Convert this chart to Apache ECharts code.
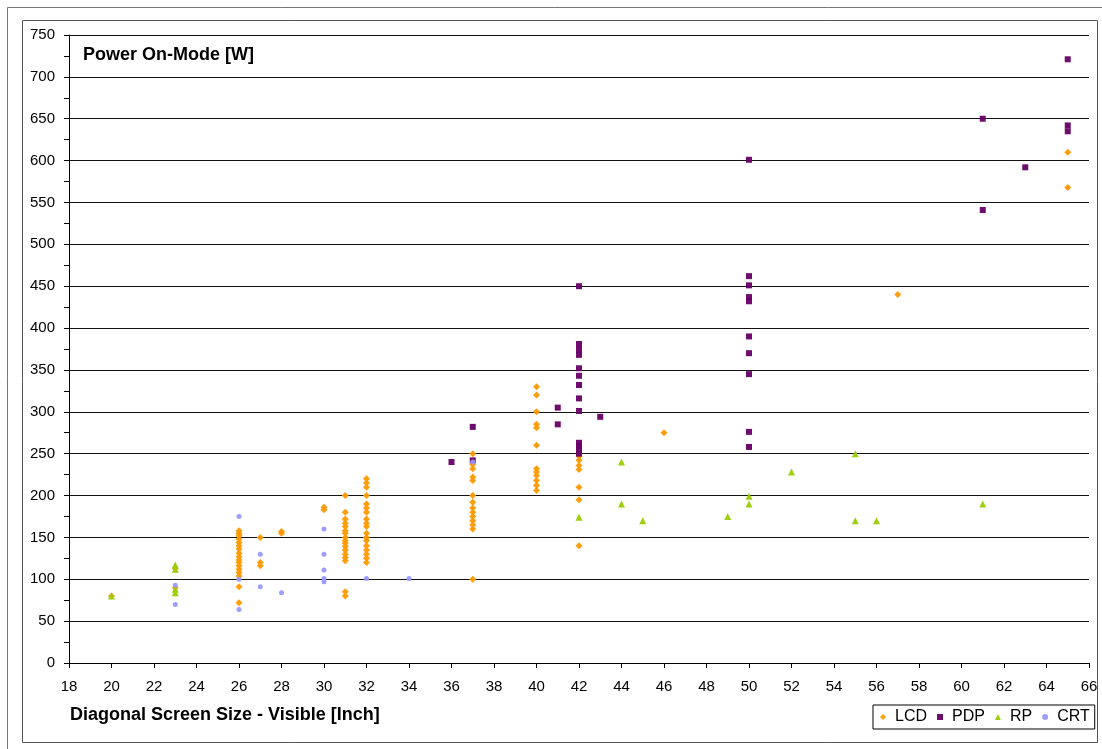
<!DOCTYPE html>
<html>
<head>
<meta charset="utf-8">
<style>
  html, body { margin: 0; padding: 0; background: #fff; }
  #chart { width: 1102px; height: 749px; }
</style>
<script src="https://cdn.jsdelivr.net/npm/echarts@6/dist/echarts.min.js"></script>
</head>
<body>
<div id="chart"></div>
<script>
// Power consumption in on-mode [W] against visible screen diagonal [inch]
const lcd = [
  [20, 80],
  [23, 113], [23, 90],
  [26, 158], [26, 155], [26, 152], [26, 148], [26, 144], [26, 140], [26, 136], [26, 131],
  [26, 127], [26, 123], [26, 120], [26, 116], [26, 112], [26, 108], [26, 104], [26, 91], [26, 72],
  [27, 150], [27, 120], [27, 116],
  [28, 157], [28, 155],
  [30, 186], [30, 183],
  [31, 200], [31, 180], [31, 172], [31, 167], [31, 163], [31, 158], [31, 155], [31, 150],
  [31, 146], [31, 143], [31, 139], [31, 135], [31, 130], [31, 126], [31, 122], [31, 85], [31, 80],
  [32, 220], [32, 215], [32, 210], [32, 200], [32, 190], [32, 185], [32, 180], [32, 172],
  [32, 167], [32, 163], [32, 155], [32, 150], [32, 146], [32, 140], [32, 135], [32, 130],
  [32, 125], [32, 120],
  [37, 250], [37, 237], [37, 232], [37, 222], [37, 218], [37, 200], [37, 192], [37, 185],
  [37, 180], [37, 175], [37, 170], [37, 165], [37, 160], [37, 100],
  [40, 330], [40, 320], [40, 300], [40, 285], [40, 281], [40, 260], [40, 232], [40, 228],
  [40, 224], [40, 218], [40, 212], [40, 206],
  [42, 247], [42, 242], [42, 236], [42, 231], [42, 210], [42, 195], [42, 140],
  [46, 275],
  [57, 440],
  [65, 610], [65, 568]
];
const pdp = [
  [36, 240],
  [37, 282], [37, 242],
  [41, 305], [41, 285],
  [42, 450], [42, 381], [42, 374], [42, 368], [42, 352], [42, 343], [42, 332], [42, 316],
  [42, 301], [42, 263], [42, 259], [42, 255], [42, 250],
  [43, 294],
  [50, 601], [50, 462], [50, 451], [50, 437], [50, 432], [50, 390], [50, 370], [50, 345],
  [50, 276], [50, 258],
  [61, 650], [61, 541],
  [63, 592],
  [65, 721], [65, 642], [65, 635]
];
const rp = [
  [20, 80],
  [23, 117], [23, 112], [23, 88], [23, 84],
  [42, 174],
  [44, 240], [44, 190],
  [45, 170],
  [49, 175],
  [50, 199], [50, 190],
  [52, 228],
  [55, 250], [55, 170],
  [56, 170],
  [61, 190]
];
const crt = [
  [23, 93], [23, 70],
  [26, 175], [26, 100], [26, 64],
  [27, 130], [27, 91],
  [28, 84],
  [30, 160], [30, 130], [30, 111], [30, 101], [30, 97],
  [32, 101],
  [34, 101],
  [37, 240]
];
const seriesNames = ['LCD', 'PDP', 'RP', 'CRT'];
const xTicks = { min: 18, max: 66, step: 2 };
const yTicks = { min: 0, max: 750, step: 50 };

const font = '"Liberation Sans", Arial, sans-serif';
const symbols = { LCD: 'diamond', PDP: 'rect', RP: 'triangle', CRT: 'circle' };
const colors = { LCD: '#FF9900', PDP: '#660066', RP: '#99CC00', CRT: '#9999FF' };
const chart = echarts.init(document.getElementById('chart'), null, { renderer: 'canvas' });

function scatter(name, data, size) {
  return {
    name, type: 'scatter', data, symbol: symbols[name], symbolSize: size,
    itemStyle: { color: colors[name], opacity: 0.95 },
    emphasis: { disabled: true }
  };
}

chart.setOption({
  animation: false,
  backgroundColor: '#fff',
  textStyle: { fontFamily: font },
  grid: { left: 69, top: 35, right: 13, bottom: 86, containLabel: false },
  xAxis: {
    type: 'value', min: xTicks.min, max: xTicks.max, interval: xTicks.step,
    axisLine: { show: true, onZero: false, lineStyle: { color: '#000', width: 1 } },
    axisTick: { show: true, length: 5, lineStyle: { color: '#000' } },
    axisLabel: { color: '#000', fontSize: 15, fontFamily: font, margin: 16 },
    splitLine: { show: false }
  },
  yAxis: {
    type: 'value', min: yTicks.min, max: yTicks.max, interval: yTicks.step,
    axisLine: { show: true, lineStyle: { color: '#000', width: 1 } },
    axisTick: { show: true, length: 5, lineStyle: { color: '#000' } },
    minorTick: { show: true, splitNumber: 2, length: 5, lineStyle: { color: '#000' } },
    axisLabel: { color: '#000', fontSize: 15, fontFamily: font, margin: 14 },
    splitLine: { show: true, lineStyle: { color: '#111', width: 1 } }
  },
  legend: {
    data: seriesNames.map(n => ({ name: n, icon: symbols[n] })),
    left: 873, top: 705,
    orient: 'horizontal',
    padding: [4, 5, 4, 7],
    itemWidth: 6, itemHeight: 6, itemGap: 10,
    borderColor: '#000', borderWidth: 1, backgroundColor: '#fff',
    textStyle: { fontSize: 16, color: '#000', fontFamily: font, padding: [0, 0, 0, 4] },
    selectedMode: false
  },
  graphic: [
    { type: 'line', shape: { x1: 7.5, y1: 7.5, x2: 1102, y2: 7.5 }, style: { stroke: '#777', lineWidth: 1 } },
    { type: 'line', shape: { x1: 7.5, y1: 7.5, x2: 7.5, y2: 749 }, style: { stroke: '#777', lineWidth: 1 } },
    { type: 'rect', shape: { x: 22.5, y: 20.5, width: 1075, height: 722 }, style: { fill: 'none', stroke: '#555', lineWidth: 1 }, z: -1 },
    { type: 'text', left: 83, top: 46, style: { text: 'Power On-Mode [W]', font: 'bold 18px ' + font, fill: '#000' } },
    { type: 'text', left: 70, top: 706, style: { text: 'Diagonal Screen Size - Visible [Inch]', font: 'bold 18px ' + font, fill: '#000' } }
  ],
  series: [
    scatter('LCD', lcd, 7),
    scatter('PDP', pdp, 6),
    scatter('RP', rp, 7),
    scatter('CRT', crt, 5)
  ]
});
</script>
</body>
</html>
